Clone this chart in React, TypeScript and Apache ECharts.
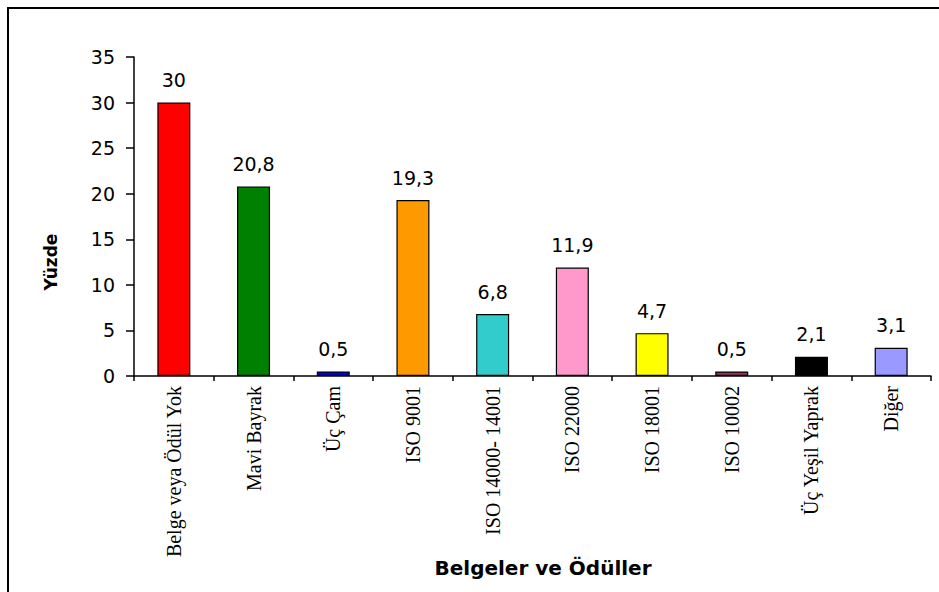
import React, { useEffect, useRef } from "react";
import * as echarts from "echarts";

const categories = [
  "Belge veya Ödül Yok",
  "Mavi Bayrak",
  "Üç Çam",
  "ISO 9001",
  "ISO 14000- 14001",
  "ISO 22000",
  "ISO 18001",
  "ISO 10002",
  "Üç Yeşil Yaprak",
  "Diğer",
];
const values = [30, 20.8, 0.5, 19.3, 6.8, 11.9, 4.7, 0.5, 2.1, 3.1];
const barColors = [
  "#FF0000",
  "#008000",
  "#0000FF",
  "#FF9900",
  "#33CCCC",
  "#FF99CC",
  "#FFFF00",
  "#993366",
  "#000000",
  "#9999FF",
];
const yTitle = "Yüzde";
const xTitle = "Belgeler ve Ödüller";

export default function App() {
  const ref = useRef<HTMLDivElement>(null);
  useEffect(() => {
    if (!ref.current) return;
    const chart = echarts.init(ref.current, null, { renderer: "svg" });
    chart.setOption({
      animation: false,
      backgroundColor: "#ffffff",
      graphic: [
        {
          type: "rect",
          shape: { x: 8, y: 8, width: 940, height: 600 },
          style: { fill: "none", stroke: "#000", lineWidth: 2 },
        },
        {
          type: "text",
          x: 51,
          y: 262,
          rotation: Math.PI / 2,
          style: {
            text: yTitle,
            fontFamily: "DejaVu Sans, sans-serif",
            fontWeight: "bold",
            fontSize: 17,
            fill: "#000",
            textAlign: "center",
            textVerticalAlign: "middle",
          },
        },
        {
          type: "text",
          x: 543,
          y: 568,
          style: {
            text: xTitle,
            fontFamily: "DejaVu Sans, sans-serif",
            fontWeight: "bold",
            fontSize: 20,
            fill: "#000",
            textAlign: "center",
            textVerticalAlign: "middle",
          },
        },
      ],
      grid: { left: 134, top: 57, right: 8, bottom: 216, containLabel: false },
      xAxis: {
        type: "category",
        data: categories,
        axisLine: { lineStyle: { color: "#000", width: 1.5 } },
        axisTick: { show: true, alignWithLabel: false, length: 5, lineStyle: { color: "#000", width: 1.5 } },
        axisLabel: {
          rotate: 90,
          interval: 0,
          margin: 10,
          fontFamily: "Liberation Serif, Times New Roman, serif",
          fontSize: 20,
          color: "#000",
        },
      },
      yAxis: {
        type: "value",
        min: 0,
        max: 35,
        interval: 5,
        splitLine: { show: false },
        axisLine: { show: true, lineStyle: { color: "#000", width: 1.5 } },
        axisTick: { show: true, length: 8, lineStyle: { color: "#000", width: 1.5 } },
        axisLabel: {
          margin: 19,
          fontFamily: "DejaVu Sans, sans-serif",
          fontSize: 19,
          color: "#000",
        },
      },
      series: [
        {
          type: "bar",
          barWidth: 33,
          data: values.map((v, i) => ({
            value: v,
            itemStyle: { color: barColors[i], borderColor: "#000", borderWidth: 1.2 },
          })),
          label: {
            show: true,
            position: "top",
            distance: 13,
            fontFamily: "DejaVu Sans, sans-serif",
            fontSize: 19,
            color: "#000",
            formatter: (p: any) => String(p.value).replace(".", ","),
          },
        },
      ],
    });
    return () => chart.dispose();
  }, []);
  return <div ref={ref} style={{ width: 939, height: 592, position: "absolute", left: 0, top: 0 }} />;
}
